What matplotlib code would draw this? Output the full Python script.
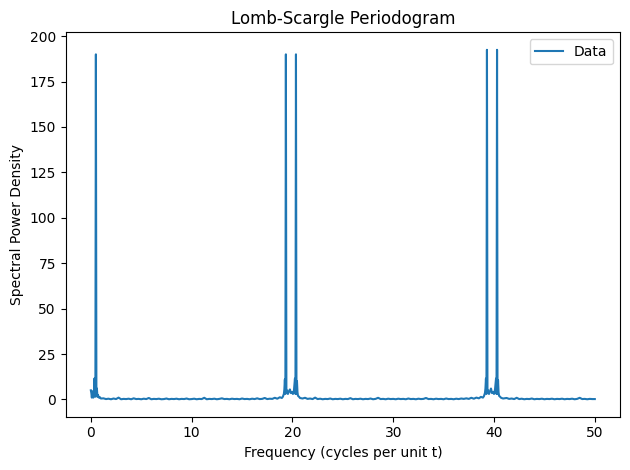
import matplotlib
matplotlib.use("Agg")
import matplotlib.pyplot as plt
import numpy as np

# Low-frequency segment with first peak
freq_low = [0.0, 0.05, 0.1, 0.15, 0.2, 0.25, 0.3, 0.35, 0.4, 0.45, 0.5, 0.55, 0.6, 0.65, 0.7, 0.8, 0.9, 1.0]
power_low = [5.0, 3.5, 1.0, 4.5, 2.0, 1.0, 3.0, 11.5, 4.0, 1.5, 190.0, 2.0, 6.0, 1.5, 2.5, 1.0, 1.2, 0.5]

# Baseline 1.25 .. 18.75
freq_base1 = [1.25, 1.5, 1.75, 2.0, 2.25, 2.5, 2.75, 3.0, 3.25, 3.5, 3.75, 4.0, 4.25, 4.5, 4.75,
              5.0, 5.25, 5.5, 5.75, 6.0, 6.25, 6.5, 6.75, 7.0, 7.25, 7.5, 7.75, 8.0, 8.25, 8.5,
              8.75, 9.0, 9.25, 9.5, 9.75, 10.0, 10.25, 10.5, 10.75, 11.0, 11.25, 11.5, 11.75,
              12.0, 12.25, 12.5, 12.75, 13.0, 13.25, 13.5, 13.75, 14.0, 14.25, 14.5, 14.75,
              15.0, 15.25, 15.5, 15.75, 16.0, 16.25, 16.5, 16.75, 17.0, 17.25, 17.5, 17.75,
              18.0, 18.25, 18.5]
power_base1 = [0.6, 0.2, 0.4, 0.1, 0.5, 0.2, 1.0, 0.1, 0.3, 0.2, 0.4, 0.1, 0.6, 0.2, 0.3,
               0.1, 0.4, 0.2, 0.8, 0.1, 0.3, 0.2, 0.4, 0.1, 0.2, 0.5, 0.1, 0.3, 0.2, 0.4,
               0.1, 0.3, 0.2, 0.5, 0.1, 0.2, 0.4, 0.1, 0.3, 0.2, 0.9, 0.1, 0.3,
               0.2, 0.4, 0.1, 0.3, 0.6, 0.2, 0.3, 0.1, 0.4, 0.2, 0.3, 0.1,
               0.5, 0.2, 0.3, 0.1, 0.4, 0.2, 0.6, 0.2, 0.3, 0.8, 0.2, 0.4,
               0.3, 0.9, 0.4]

# Second peak pair
freq_pair2 = [18.75, 18.95, 19.05, 19.15, 19.2, 19.25, 19.3, 19.35, 19.4, 19.45, 19.55, 19.65, 19.75,
              19.85, 19.95, 20.05, 20.15, 20.25, 20.3, 20.35, 20.4, 20.45, 20.5, 20.55, 20.65, 20.75, 21.0]
power_pair2 = [1.2, 0.8, 1.5, 3.0, 5.5, 11.0, 3.0, 190.0, 3.5, 5.0, 3.0, 4.5, 5.5,
               3.5, 4.0, 3.0, 5.0, 11.5, 3.0, 190.0, 3.0, 10.0, 4.0, 2.0, 1.5, 0.8, 0.5]

# Baseline 21.25 .. 38.75
freq_base2 = [21.25, 21.5, 21.75, 22.0, 22.25, 22.5, 22.75, 23.0, 23.25, 23.5, 23.75, 24.0,
              24.25, 24.5, 24.75, 25.0, 25.25, 25.5, 25.75, 26.0, 26.25, 26.5, 26.75, 27.0,
              27.25, 27.5, 27.75, 28.0, 28.25, 28.5, 28.75, 29.0, 29.25, 29.5, 29.75, 30.0,
              30.25, 30.5, 30.75, 31.0, 31.25, 31.5, 31.75, 32.0, 32.25, 32.5, 32.75, 33.0,
              33.25, 33.5, 33.75, 34.0, 34.25, 34.5, 34.75, 35.0, 35.25, 35.5, 35.75, 36.0,
              36.25, 36.5, 36.75, 37.0, 37.25, 37.5, 37.75, 38.0, 38.25, 38.5]
power_base2 = [0.9, 0.3, 0.5, 0.2, 1.0, 0.2, 0.4, 0.1, 0.3, 0.2, 0.5, 0.1,
               0.3, 0.2, 0.4, 0.1, 0.3, 0.2, 0.7, 0.1, 0.3, 0.2, 0.4, 0.1,
               0.3, 0.2, 0.5, 0.1, 0.3, 0.9, 0.2, 0.3, 0.1, 0.4, 0.2, 0.3,
               0.1, 0.4, 0.2, 0.3, 0.1, 0.5, 0.2, 0.3, 0.1, 0.4, 0.2, 0.3,
               0.8, 0.2, 0.3, 0.1, 0.4, 0.2, 0.3, 0.1, 0.5, 0.2, 0.3, 0.1,
               0.4, 0.2, 0.5, 0.3, 0.6, 0.3, 0.9, 0.4, 1.0, 0.6]

# Third peak pair
freq_pair3 = [38.7, 38.9, 39.0, 39.1, 39.15, 39.2, 39.25, 39.3, 39.35, 39.4, 39.5, 39.6, 39.7,
              39.8, 39.9, 40.0, 40.1, 40.2, 40.25, 40.3, 40.35, 40.4, 40.45, 40.5, 40.6, 40.7, 40.9]
power_pair3 = [1.4, 1.0, 1.8, 3.5, 6.0, 11.5, 3.0, 192.5, 3.5, 5.0, 3.0, 4.5, 6.0,
               3.5, 4.0, 3.0, 5.5, 11.5, 3.0, 192.5, 3.0, 10.5, 4.0, 2.0, 1.5, 0.9, 0.5]

# Baseline 41.25 .. 50
freq_base3 = [41.25, 41.5, 41.75, 42.0, 42.25, 42.5, 42.75, 43.0, 43.25, 43.5, 43.75, 44.0,
              44.25, 44.5, 44.75, 45.0, 45.25, 45.5, 45.75, 46.0, 46.25, 46.5, 46.75, 47.0,
              47.25, 47.5, 47.75, 48.0, 48.25, 48.5, 48.75, 49.0, 49.25, 49.5, 49.75, 50.0]
power_base3 = [0.8, 0.3, 0.5, 0.2, 0.9, 0.2, 0.4, 0.1, 0.3, 0.2, 0.5, 0.1,
               0.3, 0.2, 0.4, 0.1, 0.3, 0.2, 0.4, 0.1, 0.3, 0.2, 0.4, 0.1,
               0.3, 0.2, 0.4, 0.1, 0.3, 0.9, 0.2, 0.3, 0.1, 0.3, 0.2, 0.2]

freq = freq_low + freq_base1 + freq_pair2 + freq_base2 + freq_pair3 + freq_base3
power = power_low + power_base1 + power_pair2 + power_base2 + power_pair3 + power_base3

fig, ax = plt.subplots(figsize=(6.4, 4.8), dpi=100)
ax.plot(freq, power, label="Data", color="#1f77b4")
ax.set_title("Lomb-Scargle Periodogram")
ax.set_xlabel("Frequency (cycles per unit t)")
ax.set_ylabel("Spectral Power Density")
ax.legend(loc="upper right")
fig.tight_layout()
fig.savefig("out.png", bbox_inches="tight")
